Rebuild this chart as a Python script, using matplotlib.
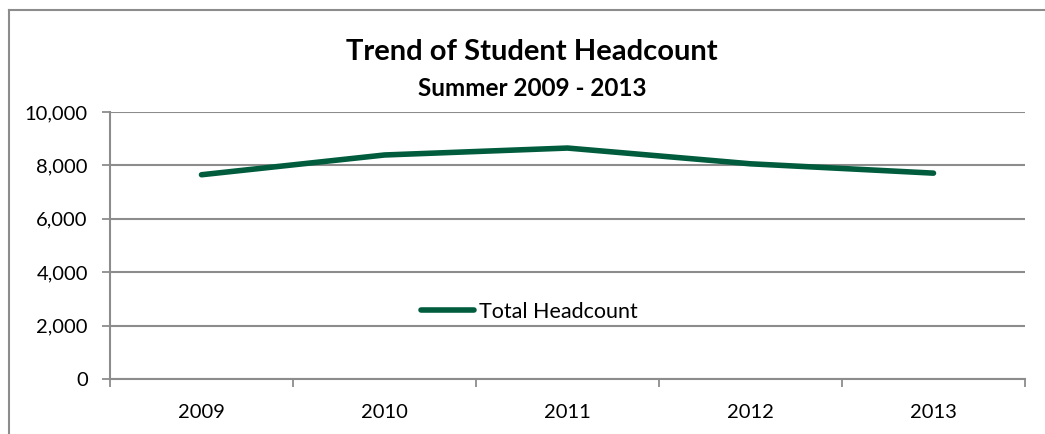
import matplotlib.pyplot as plt
from matplotlib.ticker import FuncFormatter
from matplotlib.lines import Line2D

# data
years = ['2009', '2010', '2011', '2012', '2013']
headcount = [7650, 8390, 8650, 8060, 7710]
series_name = 'Total Headcount'

line_color = '#005c3c'
grid_color = '#8c8c8c'

plt.rcParams['font.family'] = ['Lato', 'DejaVu Sans']

fig = plt.figure(figsize=(10.45, 4.34), dpi=100, facecolor='white')
W, H = 1045, 434
# plot area in pixels: left 110, right 1025, top 112, bottom 379
ax = fig.add_axes([110 / W, 1 - 379 / H, (1025 - 110) / W, (379 - 112) / H])

x = list(range(len(years)))
ax.plot(x, headcount, color=line_color, linewidth=4, solid_capstyle='round',
        solid_joinstyle='round', zorder=3)

ax.set_xlim(-0.5, len(years) - 0.5)
ax.set_ylim(0, 10000)
ax.set_yticks(range(0, 10001, 2000))
ax.yaxis.set_major_formatter(FuncFormatter(lambda v, p: f'{int(v):,}'))
ax.yaxis.grid(True, color=grid_color, linewidth=1.5)
ax.set_axisbelow(True)

# category boundaries carry the ticks, labels sit in the middle
ax.set_xticks([i - 0.5 for i in range(len(years) + 1)])
ax.set_xticklabels([])
ax.set_xticks(x, minor=True)
ax.set_xticklabels(years, minor=True)
ax.tick_params(axis='x', which='major', length=6, width=1.3, color=grid_color, direction='out')
ax.tick_params(axis='x', which='minor', length=0, pad=18, labelsize=14.5)
ax.tick_params(axis='y', length=6, width=1.3, color=grid_color, labelsize=14.5, pad=10)

for s in ['top', 'right']:
    ax.spines[s].set_visible(False)
for s in ['left', 'bottom']:
    ax.spines[s].set_color(grid_color)
    ax.spines[s].set_linewidth(1.5)

fig.text(532 / W, 1 - 52 / H, 'Trend of Student Headcount', ha='center', va='center',
         fontsize=21, fontweight='bold')
fig.text(532 / W, 1 - 88 / H, 'Summer 2009 - 2013', ha='center', va='center',
         fontsize=17.5, fontweight='bold')

handle = Line2D([0], [0], color=line_color, linewidth=4, solid_capstyle='round')
fig.legend([handle], [series_name], loc='center', bbox_to_anchor=(529 / W, 1 - 312 / H),
           frameon=False, fontsize=15.5, handlelength=2.5, handletextpad=0.2, borderpad=0)

# chart border (only top and left visible in the crop)
fig.add_artist(Line2D([9 / W, 9 / W], [0, 1 - 10 / H], color=grid_color, linewidth=1.5))
fig.add_artist(Line2D([9 / W, 1], [1 - 10 / H, 1 - 10 / H], color=grid_color, linewidth=1.5))

fig.savefig('out.png', dpi=100)
